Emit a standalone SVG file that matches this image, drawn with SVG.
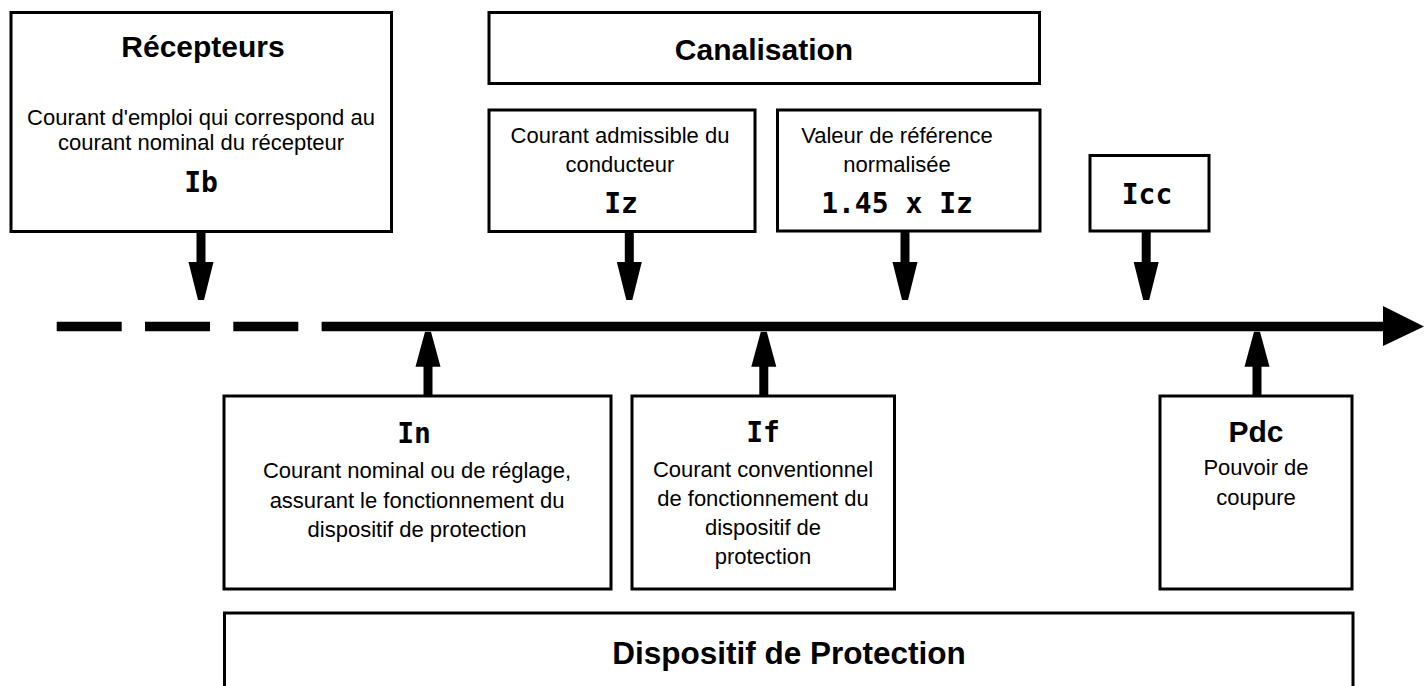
<svg xmlns="http://www.w3.org/2000/svg" width="1426" height="686" viewBox="0 0 1426 686">
  <style>
    .box { fill: #ffffff; stroke: #000000; stroke-width: 3; }
    .title { font-family: "Liberation Sans", Arial, sans-serif; font-weight: bold; font-size: 30px; text-anchor: middle; fill: #000; }
    .desc { font-family: "Liberation Sans", Arial, sans-serif; font-size: 22px; text-anchor: middle; fill: #000; }
    .sym { font-family: "DejaVu Sans Mono", "Liberation Mono", monospace; font-weight: bold; font-size: 28px; text-anchor: middle; fill: #000; }
    .shaft { stroke: #000; stroke-width: 9; fill: none; }
    .head { fill: #000; stroke: none; }
    .axis { stroke: #000; stroke-width: 9.5; fill: none; }
  </style>

  <rect width="1426" height="686" fill="#ffffff"/>

  <!-- current axis and arrows -->
  <g id="connectors">
    <path class="axis" d="M56.7 326.5 H321.7" stroke-dasharray="65 23.3"/>
    <path class="axis" d="M321.7 326.5 H1390"/>
    <polygon class="head" points="1383,306 1424,326.5 1383,346"/>

    <!-- downward arrows (upper boxes to axis) -->
    <line class="shaft" x1="201" y1="231" x2="201" y2="265"/>
    <polygon class="head" points="188.5,262 213.5,262 204,300 198,300"/>
    <line class="shaft" x1="629.3" y1="231" x2="629.3" y2="265"/>
    <polygon class="head" points="616.8,262 641.8,262 632.3,300 626.3,300"/>
    <line class="shaft" x1="905" y1="231" x2="905" y2="265"/>
    <polygon class="head" points="892.5,262 917.5,262 908,300 902,300"/>
    <line class="shaft" x1="1146.2" y1="231" x2="1146.2" y2="265"/>
    <polygon class="head" points="1133.7,262 1158.7,262 1149.2,300 1143.2,300"/>

    <!-- upward arrows (lower boxes to axis) -->
    <line class="shaft" x1="428" y1="396" x2="428" y2="362"/>
    <polygon class="head" points="415.5,366.7 440.5,366.7 431,331.7 425,331.7"/>
    <line class="shaft" x1="763.8" y1="396" x2="763.8" y2="362"/>
    <polygon class="head" points="751.3,366.7 776.3,366.7 766.8,331.7 760.8,331.7"/>
    <line class="shaft" x1="1257" y1="396" x2="1257" y2="362"/>
    <polygon class="head" points="1244.5,366.7 1269.5,366.7 1260,331.7 1254,331.7"/>
  </g>

  <g id="recepteurs">
    <rect class="box" x="11" y="12.5" width="380.5" height="219"/>
    <text class="title" x="203" y="57">Récepteurs</text>
    <text class="desc" x="201" y="125">Courant d'emploi qui correspond au</text>
    <text class="desc" x="201" y="150">courant nominal du récepteur</text>
    <text class="sym" x="201" y="192">Ib</text>
  </g>

  <g id="canalisation">
    <rect class="box" x="489" y="12.5" width="550.5" height="71"/>
    <text class="title" x="764" y="60">Canalisation</text>
  </g>

  <g id="iz">
    <rect class="box" x="489" y="110" width="266" height="121.5"/>
    <text class="desc" x="620" y="143">Courant admissible du</text>
    <text class="desc" x="620" y="172">conducteur</text>
    <text class="sym" x="621" y="213">Iz</text>
  </g>

  <g id="iz-145">
    <rect class="box" x="777.5" y="110" width="262.5" height="121"/>
    <text class="desc" x="897" y="143">Valeur de référence</text>
    <text class="desc" x="897" y="172">normalisée</text>
    <text class="sym" x="897" y="213">1.45 x Iz</text>
  </g>

  <g id="icc">
    <rect class="box" x="1090" y="155.5" width="119" height="75.5"/>
    <text class="sym" x="1147" y="204">Icc</text>
  </g>

  <g id="in">
    <rect class="box" x="224" y="396" width="387" height="193"/>
    <text class="sym" x="414" y="443">In</text>
    <text class="desc" x="417" y="478">Courant nominal ou de réglage,</text>
    <text class="desc" x="417" y="508">assurant le fonctionnement du</text>
    <text class="desc" x="417" y="537">dispositif de protection</text>
  </g>

  <g id="if">
    <rect class="box" x="632" y="396" width="262.5" height="193"/>
    <text class="sym" x="763" y="442">If</text>
    <text class="desc" x="763" y="477">Courant conventionnel</text>
    <text class="desc" x="763" y="506">de fonctionnement du</text>
    <text class="desc" x="763" y="535">dispositif de</text>
    <text class="desc" x="763" y="564">protection</text>
  </g>

  <g id="pdc">
    <rect class="box" x="1160" y="396" width="192" height="193"/>
    <text class="title" x="1256" y="442">Pdc</text>
    <text class="desc" x="1256" y="475">Pouvoir de</text>
    <text class="desc" x="1256" y="505">coupure</text>
  </g>

  <g id="dispositif">
    <rect class="box" x="224.5" y="613" width="1128.5" height="100"/>
    <text class="title" x="789" y="664" style="font-size:31.5px">Dispositif de Protection</text>
  </g>
</svg>
